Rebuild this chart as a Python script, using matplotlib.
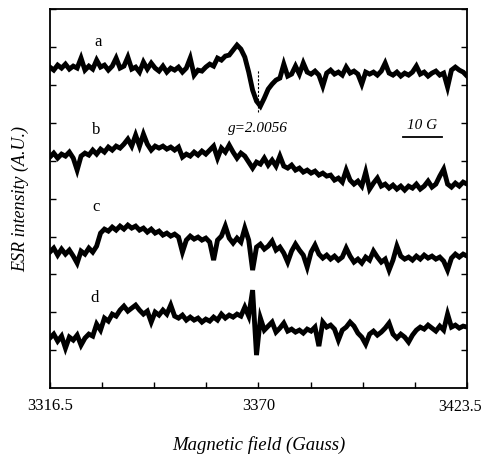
import numpy as np
import matplotlib.pyplot as plt

# field grid, 1 G steps across the sweep
field = np.arange(3316.5, 3424.0, 1.0)

# ESR intensity (A.U.)
spec_a = [321, 318, 323, 320, 324, 319, 322, 320, 330, 318,
          322, 319, 328, 321, 323, 318, 322, 330, 320, 322,
          331, 319, 321, 316, 326, 319, 325, 320, 317, 322,
          316, 320, 318, 321, 316, 320, 330, 313, 318, 317,
          321, 324, 322, 330, 328, 332, 333, 338, 343, 339,
          331, 316, 298, 287, 282, 290, 299, 304, 308, 310,
          324, 312, 314, 322, 314, 325, 316, 314, 317, 313,
          302, 315, 318, 314, 316, 313, 321, 315, 317, 314,
          304, 316, 314, 316, 313, 317, 325, 315, 313, 316,
          312, 315, 313, 316, 322, 314, 316, 312, 315, 317,
          313, 315, 301, 318, 321, 318, 316, 312]
spec_b = [231, 235, 230, 234, 232, 236, 230, 218, 232, 235,
          233, 238, 234, 239, 236, 241, 238, 242, 240, 244,
          249, 242, 253, 242, 254, 244, 238, 242, 240, 242,
          239, 241, 238, 241, 231, 234, 232, 236, 233, 237,
          234, 238, 242, 230, 240, 236, 243, 236, 230, 235,
          232, 226, 220, 226, 224, 230, 223, 228, 222, 232,
          222, 220, 223, 218, 220, 216, 218, 215, 217, 213,
          215, 212, 213, 208, 210, 206, 218, 208, 204, 207,
          202, 216, 199, 205, 210, 202, 204, 200, 203, 199,
          202, 198, 202, 200, 204, 199, 202, 207, 201, 204,
          212, 219, 204, 201, 205, 202, 206, 204]
spec_c = [136, 140, 133, 139, 134, 138, 132, 125, 137, 134,
          140, 136, 142, 155, 159, 157, 161, 158, 162, 159,
          163, 160, 162, 158, 160, 156, 159, 155, 157, 153,
          155, 152, 154, 151, 136, 148, 152, 149, 151, 148,
          150, 146, 128, 148, 152, 162, 150, 145, 150, 146,
          160, 148, 118, 141, 144, 139, 142, 147, 138, 141,
          135, 126, 137, 144, 138, 133, 121, 136, 143, 134,
          130, 133, 129, 132, 128, 131, 140, 132, 126, 129,
          125, 131, 128, 137, 131, 126, 129, 118, 128, 142,
          132, 129, 131, 128, 132, 129, 133, 130, 132, 129,
          131, 127, 118, 130, 134, 131, 134, 132]
spec_d = [50, 54, 47, 52, 40, 51, 48, 53, 43, 50,
          54, 52, 64, 58, 70, 67, 74, 72, 78, 82,
          77, 80, 83, 78, 74, 77, 66, 76, 73, 78,
          74, 83, 72, 70, 73, 68, 71, 68, 70, 66,
          69, 67, 71, 68, 74, 70, 73, 71, 74, 72,
          81, 72, 98, 33, 70, 58, 62, 66, 56, 60,
          65, 57, 59, 56, 58, 55, 59, 57, 61, 42,
          66, 61, 63, 59, 48, 58, 61, 66, 62, 55,
          51, 44, 54, 57, 53, 56, 60, 65, 54, 50,
          54, 51, 46, 53, 58, 61, 59, 63, 60, 57,
          62, 58, 74, 61, 63, 60, 62, 61]

labels = ['a', 'b', 'c', 'd']
label_pos = [(3328.8, 346), (3328.3, 258), (3328.3, 181), (3328.0, 90)]
x_ticks = [3316.5, 3370, 3423.5]
x_ticklabels = ['3316.5', '3370', '3423.5']

serif = 'Liberation Serif'

fig = plt.figure(figsize=(4.84, 4.55), dpi=100)
ax = fig.add_axes([0.103, 0.147, 0.862, 0.833])

for s in [spec_a, spec_b, spec_c, spec_d]:
    ax.plot(field, s, color='black', lw=3.5, solid_joinstyle='miter')

for lab, (x, y) in zip(labels, label_pos):
    ax.text(x, y, lab, fontsize=12, family=serif, ha='center', va='center')

# g-value marker on spectrum a
ax.plot([3369.9, 3369.9], [276, 318], color='black', lw=0.8, ls=(0, (2, 1.5)))
ax.text(3369.9, 260, 'g=2.0056', fontsize=11, family=serif, style='italic',
        ha='center', va='center')

# 10 G scale bar
ax.text(3412, 263, '10 G', fontsize=11, family=serif, style='italic',
        ha='center', va='center')
ax.plot([3407.0, 3417.0], [251, 251], color='black', lw=1.3)

ax.set_xlim(3316.5, 3423.5)
ax.set_ylim(0, 379)
ax.set_xticks(x_ticks)
# last label sits against the figure edge: drawn separately, a bit to the left
ax.set_xticklabels(x_ticklabels[:-1] + [''], family=serif, fontsize=12)
ax.annotate(x_ticklabels[-1], xy=(x_ticks[-1], 0), xycoords=('data', 'axes fraction'),
            xytext=(-5, -7.5), textcoords='offset points', ha='center', va='top',
            family=serif, fontsize=11.5)
ax.set_xticks(np.linspace(3316.5, 3423.5, 9), minor=True)
ax.set_yticks(np.arange(37.9, 379, 37.9))
ax.set_yticklabels([])
ax.tick_params(axis='both', which='both', direction='in', length=4, width=1)
ax.tick_params(axis='y', right=True)
ax.tick_params(axis='x', pad=7)
for sp in ax.spines.values():
    sp.set_linewidth(1.3)

ax.set_xlabel('Magnetic field (Gauss)', family=serif, style='italic',
              fontsize=13.5, labelpad=16)
ax.set_ylabel('ESR intensity (A.U.)', family=serif, style='italic',
              fontsize=13, labelpad=11)

fig.savefig('out.png', dpi=100)
